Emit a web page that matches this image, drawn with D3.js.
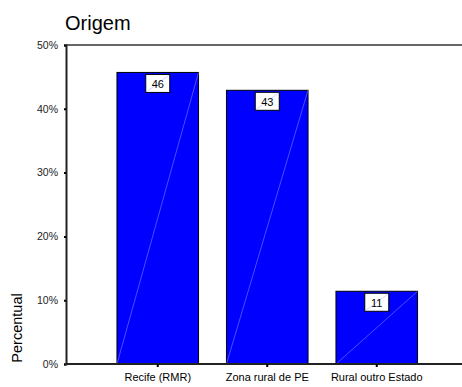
<!DOCTYPE html>
<html>
<head>
<meta charset="utf-8">
<script src="https://cdn.jsdelivr.net/npm/d3@7"></script>
<style>
  html, body { margin: 0; padding: 0; background: #fff; }
  svg { display: block; font-family: Arial, "Liberation Sans", sans-serif; }
</style>
</head>
<body>
<svg id="chart" width="462" height="387"></svg>
<script>
// Origem: share of respondents by place of origin (percent)
const categories = ["Recife (RMR)", "Zona rural de PE", "Rural outro Estado"];
const percents = [45.7, 42.9, 11.4];
const yTicks = [0, 10, 20, 30, 40, 50];
const title = "Origem";
const yTitle = "Percentual";

const svg = d3.select("#chart");
const W = 462, H = 387;
const plotLeft = 66, plotTop = 45, plotBottom = 364;

const x = d3.scaleBand().domain(categories)
  .range([103, 431.5])
  .paddingInner(0.255).paddingOuter(0.1275);
const y = d3.scaleLinear().domain([0, 50]).range([plotBottom, plotTop]);

// title
svg.append("text").attr("x", 65).attr("y", 30)
  .attr("font-size", 20).attr("fill", "#000").text(title);

// top frame line
svg.append("line").attr("x1", plotLeft).attr("x2", W)
  .attr("y1", y(50)).attr("y2", y(50))
  .attr("stroke", "#333").attr("stroke-width", 1.5);

// bars
const bars = svg.append("g");
const data = categories.map((c, i) => ({ c, v: percents[i] }));
bars.selectAll("rect").data(data).join("rect")
  .attr("x", d => x(d.c)).attr("y", d => y(d.v))
  .attr("width", x.bandwidth()).attr("height", d => y(0) - y(d.v))
  .attr("fill", "#0000ff").attr("stroke", "#000").attr("stroke-width", 1);
bars.selectAll("line").data(data).join("line")
  .attr("x1", d => x(d.c)).attr("y1", y(0))
  .attr("x2", d => x(d.c) + x.bandwidth()).attr("y2", d => y(d.v))
  .attr("stroke", "#9a9aff").attr("stroke-width", 0.5);

// value labels
const lbl = svg.append("g").selectAll("g").data(data).join("g")
  .attr("transform", d => `translate(${x(d.c) + x.bandwidth() / 2},${y(d.v) + 2})`);
lbl.append("rect").attr("x", -12).attr("y", 0).attr("width", 24).attr("height", 18)
  .attr("fill", "#fff").attr("stroke", "#000").attr("stroke-width", 1);
lbl.append("line").attr("x1", -11).attr("y1", 17).attr("x2", 11).attr("y2", 1)
  .attr("stroke", "#b8b8ff").attr("stroke-width", 0.6);
lbl.append("text").attr("x", 0).attr("y", 13.5).attr("text-anchor", "middle")
  .attr("font-size", 11).attr("fill", "#000").text(d => d3.format(".0f")(d.v));

// y axis
const yAxis = svg.append("g").attr("transform", `translate(${plotLeft},0)`)
  .call(d3.axisLeft(y).tickValues(yTicks).tickFormat(d => d + "%").tickSize(2).tickPadding(6));
yAxis.select(".domain").attr("stroke", "#222").attr("stroke-width", 2);
yAxis.selectAll(".tick line").attr("stroke", "#000").attr("stroke-width", 2);
yAxis.selectAll("text").attr("font-size", 10.5).attr("fill", "#222")
  .attr("font-family", "Arial, 'Liberation Sans', sans-serif");

// x axis
svg.append("line").attr("x1", plotLeft - 1).attr("x2", W)
  .attr("y1", y(0)).attr("y2", y(0)).attr("stroke", "#222").attr("stroke-width", 2);
const xAxis = svg.append("g").attr("transform", `translate(0,${y(0)})`)
  .call(d3.axisBottom(x).tickSize(3).tickPadding(6));
xAxis.select(".domain").remove();
xAxis.selectAll(".tick line").attr("stroke", "#000").attr("stroke-width", 2);
xAxis.selectAll("text").attr("font-size", 11).attr("fill", "#000")
  .attr("font-family", "Arial, 'Liberation Sans', sans-serif");

// y title
svg.append("text").attr("transform", "translate(22,328) rotate(-90)")
  .attr("text-anchor", "middle").attr("font-size", 14.5).attr("fill", "#000").text(yTitle);
</script>
</body>
</html>
